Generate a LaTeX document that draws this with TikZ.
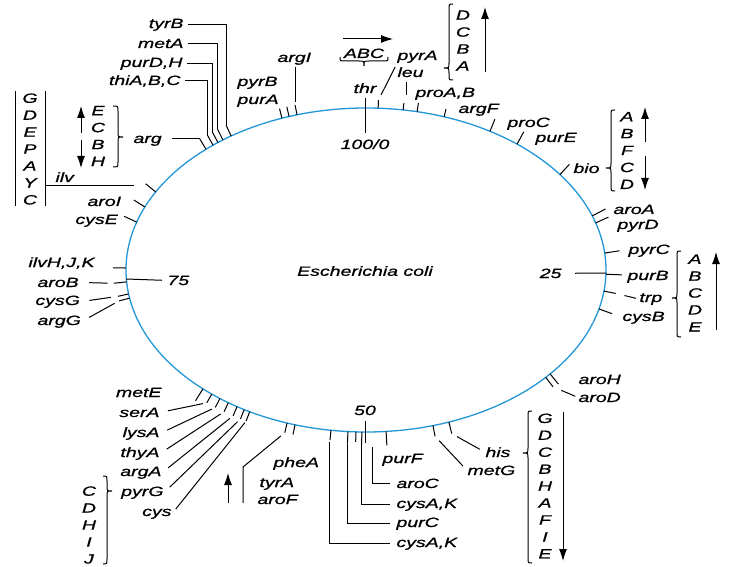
\documentclass[tikz,border=0pt]{standalone}
\usepackage{fontspec}
\setmainfont{Liberation Sans}[FakeStretch=1.45, FakeBold=0.9]
\usepackage{tikz}
\usetikzlibrary{calc, arrows.meta}
\definecolor{chromblue}{RGB}{35, 150, 215}

\begin{document}
\begin{tikzpicture}[x=1bp, y=-1bp, line width=1bp,
    gene/.style={inner sep=0pt, font=\fontsize{13.5}{17}\selectfont\itshape},
    operon/.style={gene, align=center},
    >={Latex[length=12bp, width=8bp]}]
\useasboundingbox (0,0) rectangle (732,567);

% chromosome
\draw[chromblue, line width=1.3bp] (366,270) ellipse (240 and 162);
\node[gene] (ecoli) at (365,271) {Escherichia coli};

% gene ticks (angle clockwise from the 25 min point, tick length)
\foreach \t/\g/\l in {228.2/arg/12, 230.4/thiABC/12, 231.9/purDH/12, 233.4/metA/12,
    235.8/tyrB/12, 249.5/purA/10, 251.3/pyrB/10, 253.3/argI/10, 272.9/pyrA/8,
    278.9/leu/7, 282.3/proAB/9, 289/argF/8, 301.1/proC/13, 309/purE/14,
    323.9/bio/14, 340.5/aroA/15, 343.1/pyrD/14, 354/pyrC/15, 1.5/purB/16,
    7.5/trp/12, 13.9/cysB/14, 39.9/aroH/13, 41.5/aroD/12, 69.8/his/12,
    73.8/metG/11, 85.2/purF/14, 91/cysAKa/12, 92.4/cysAKb/10, 94.3/purC/12,
    98.4/cysAKc/10, 107.2/pheA/10, 109.2/tyrA/10, 119/cys/10, 120.5/pyrG/10,
    122.5/argA/10, 125/thyA/10, 127.5/lysA/10, 130/serA/10, 132.8/metE/14,
    170/argG/11, 171.5/cysG/11, 175.8/aroB/13, 180.7/ilvHJK/13, 197.2/cysE/14,
    202.9/aroI/13, 208.8/ilv/13}{
  \pgfmathsetmacro{\tnx}{162*cos(\t)}
  \pgfmathsetmacro{\tny}{240*sin(\t)}
  \pgfmathsetmacro{\tnl}{veclen(\tnx,\tny)}
  \coordinate (\g-on) at ({366+240*cos(\t)},{270+162*sin(\t)});
  \coordinate (\g-out) at ($(\g-on)+({\l*\tnx/\tnl},{\l*\tny/\tnl})$);
  \draw (\g-on) -- (\g-out);
}

% map units
\node[gene, anchor=base] (thr) at (365,93) {thr};
\node[gene, anchor=base] (zero) at (365,149) {100/0};
\draw[shorten <=4bp, shorten >=6bp] (thr.south) -- (zero.north);
\node[gene, anchor=base east] (min25) at (562,278) {25};
\coordinate (q25) at (606,273);
\draw[shorten <=13bp] (min25.east) -- (q25);
\node[gene, anchor=base] (min50) at (365,415) {50};
\coordinate (q50) at (365,443);
\draw[shorten <=5bp] (min50.south) -- (q50);
\node[gene, anchor=base west] (min75) at (167,285) {75};
\coordinate (q75) at (126,279);
\draw[shorten <=5bp] (min75.west) -- (q75);

% top left
\node[gene, anchor=base east] (tyrB) at (184,28) {tyrB};
\node[gene, anchor=base east] (metA) at (184,48) {metA};
\node[gene, anchor=base east] (purDH) at (183,67) {purD,H};
\node[gene, anchor=base east] (thiABC) at (181,85) {thiA,B,C};
\draw (tyrB-out) |- ([xshift=4bp]tyrB.east);
\draw (metA-out) |- ([xshift=4bp]metA.east);
\draw (purDH-out) |- ([xshift=4bp]purDH.east);
\draw (thiABC-out) |- ([xshift=4bp]thiABC.east);
\node[gene, anchor=base west] (argL) at (133,143) {arg};
\draw (arg-out) -- ($(argL.east |- arg-out)+(10,0)$);
\node[operon] (argOp) at (98,136) {E\\C\\B\\H};
\draw[->] (81,133) -- (81,106);
\draw[->] (81,140) -- (81,168);
\draw (113,106) .. controls (118,106) .. (118,111) -- (118,132)
  .. controls (118,137) .. (123,137) .. controls (118,137) .. (118,142)
  -- (118,162) .. controls (118,167) .. (113,167);

\node[operon] (ilvOp) at (30,149) {G\\D\\E\\P\\A\\Y\\C};
\draw (15,91) -- (15,206);
\draw (45,91) -- (45,206);
\node[gene, anchor=base west] (ilvL) at (55,182) {ilv};
\coordinate (ilvBar) at (45,186);
\draw[shorten >=12bp] (ilvBar) -- (ilvBar -| ilv-out);

\node[gene, anchor=base west] (pyrBL) at (237,86) {pyrB};
\node[gene, anchor=base west] (purAL) at (237,104) {purA};
\node[gene, anchor=base west] (argIL) at (277,62) {argI};
\draw[shorten <=2bp, shorten >=3bp] (argI-out |- argIL.south) -- (argI-out);

% top
\node[gene, anchor=base] (abc) at (364,58) {ABC};
\draw[->] (343,39) -- (393,39);
\draw (340,57) .. controls (340,61) .. (345,61) -- (359,61)
  .. controls (364,61) .. (364,66) .. controls (364,61) .. (369,61)
  -- (383,61) .. controls (388,61) .. (388,57);
\node[gene, anchor=base west] (pyrAL) at (397,60) {pyrA};
\draw[shorten <=6bp, shorten >=4bp] (pyrA-out) -- (pyrAL.south west);
\node[gene, anchor=base west] (leuL) at (397,77) {leu};
\draw[shorten <=4bp, shorten >=8bp] ($(leuL.south west)+(9,0)$) -- ($(leuL.south west |- leu-out)+(9,0)$);
\node[operon] (leuOp) at (463,40.5) {D\\C\\B\\A};
\draw[->] (485,72) -- (485,7);
\draw (453,4) .. controls (449,4) .. (449,9) -- (449,63)
  .. controls (449,68) .. (444,68) .. controls (449,68) .. (449,73)
  -- (449,75) .. controls (449,80) .. (453,80);
\node[gene, anchor=base west] (proABL) at (415,97) {proA,B};
\node[gene, anchor=base west] (argFL) at (458,113) {argF};
\node[gene, anchor=base west] (proCL) at (507,127) {proC};
\node[gene, anchor=base west] (purEL) at (535,142) {purE};

% right
\node[gene, anchor=base west] (bioL) at (573,173) {bio};
\node[operon] (bioOp) at (627,150.5) {A\\B\\F\\C\\D};
\draw (615,110) .. controls (611,110) .. (611,115) -- (611,163)
  .. controls (611,168) .. (606,168) .. controls (611,168) .. (611,173)
  -- (611,186) .. controls (611,191) .. (615,191);
\draw[->] (645,142) -- (645,107);
\draw[->] (645,156) -- (645,190);
\node[gene, anchor=base west] (aroAL) at (613,214) {aroA};
\node[gene, anchor=base west] (pyrDL) at (617,229) {pyrD};
\node[gene, anchor=base west] (pyrCL) at (628,254) {pyrC};
\node[gene, anchor=base west] (purBL) at (627,280) {purB};
\node[gene, anchor=base west] (trpL) at (639,302) {trp};
\draw[shorten <=9bp, shorten >=3bp] (trp-out) -- (trpL.west);
\node[gene, anchor=base west] (cysBL) at (622,321) {cysB};
\node[operon] (trpOp) at (695,293) {A\\B\\C\\D\\E};
\draw (681,251) .. controls (677,251) .. (677,256) -- (677,293)
  .. controls (677,298) .. (672,298) .. controls (677,298) .. (677,303)
  -- (677,332) .. controls (677,337) .. (681,337);
\draw[->] (716,330) -- (716,252);
\node[gene, anchor=base west] (aroHL) at (578,384) {aroH};
\node[gene, anchor=base west] (aroDL) at (578,402) {aroD};
\draw[shorten <=9bp, shorten >=3bp] (aroD-out) -- (aroDL.west);

% bottom right
\node[gene, anchor=base west] (hisL) at (485,457) {his};
\draw[shorten <=6bp, shorten >=6bp] (his-out) -- (hisL.west);
\node[gene, anchor=base west] (metGL) at (467,475) {metG};
\draw[shorten <=6bp, shorten >=6bp] (metG-out) -- (metGL.west);
\node[operon] (hisOp) at (545,486) {G\\D\\C\\B\\H\\A\\F\\I\\E};
\draw (532,411) .. controls (528,411) .. (528,416) -- (528,448)
  .. controls (528,453) .. (523,453) .. controls (528,453) .. (528,458)
  -- (528,558) .. controls (528,563) .. (532,563);
\draw[->] (563,412) -- (563,561);

% bottom
\node[gene, anchor=base west] (purFL) at (382,463) {purF};
\node[gene, anchor=base west] (aroCL) at (396,488) {aroC};
\node[gene, anchor=base west] (cysAK1) at (396,508) {cysA,K};
\node[gene, anchor=base west] (purCL) at (396,527) {purC};
\node[gene, anchor=base west] (cysAK2) at (396,547) {cysA,K};
\coordinate (aroCtop) at (372,447);
\draw (aroCtop) |- ([xshift=-6bp]aroCL.west);
\draw (cysAKa-out) |- ([xshift=-6bp]cysAK1.west);
\draw (purC-out) |- ([xshift=-6bp]purCL.west);
\draw[shorten <=2bp] (cysAKc-out) |- ([xshift=-6bp]cysAK2.west);

\node[gene, anchor=base west] (pheAL) at (273,467) {pheA};
\node[gene, anchor=base west] (tyrAL) at (259,487) {tyrA};
\node[gene, anchor=base west] (aroFL) at (257,504) {aroF};
\coordinate (pheBend) at (243,467);
\coordinate (pheFoot) at (243,503);
\draw[shorten <=5bp] (tyrA-out) -- (pheBend) -- (pheFoot);
\draw[->] (228,503) -- (228,473);

% bottom left
\node[gene, anchor=base east] (metEL) at (162,397) {metE};
\node[gene, anchor=base east] (serAL) at (160,417) {serA};
\node[gene, anchor=base east] (lysAL) at (160,437) {lysA};
\node[gene, anchor=base east] (thyAL) at (160,457) {thyA};
\node[gene, anchor=base east] (argAL) at (162,476) {argA};
\node[gene, anchor=base east] (pyrGL) at (164,496) {pyrG};
\node[gene, anchor=base east] (cysL) at (172,516) {cys};
\draw[shorten <=8bp, shorten >=4bp] (serAL.east) -- (serA-out);
\draw[shorten <=8bp, shorten >=4bp] (lysAL.east) -- (lysA-out);
\draw[shorten <=8bp, shorten >=4bp] (thyAL.east) -- (thyA-out);
\draw[shorten <=8bp, shorten >=4bp] (argAL.east) -- (argA-out);
\draw[shorten <=8bp, shorten >=4bp] (pyrGL.east) -- (pyrG-out);
\draw[shorten <=6bp, shorten >=2bp] (cysL.east) -- (cys-out);
\node[operon] (cysOp) at (89,525) {C\\D\\H\\I\\J};
\draw (103,476) .. controls (107,476) .. (107,481) -- (107,486)
  .. controls (107,491) .. (112,491) .. controls (107,491) .. (107,496)
  -- (107,559) .. controls (107,564) .. (103,564);

% left
\node[gene, anchor=base west] (aroIL) at (87,206) {aroI};
\node[gene, anchor=base west] (cysEL) at (75,224) {cysE};
\node[gene, anchor=base west] (ilvHJKL) at (28,267) {ilvH,J,K};
\node[gene, anchor=base west] (aroBL) at (37,287) {aroB};
\node[gene, anchor=base west] (cysGL) at (35,305) {cysG};
\node[gene, anchor=base west] (argGL) at (37,325) {argG};
\draw[shorten <=10bp, shorten >=6bp] (aroBL.east) -- (aroB-out);
\draw[shorten <=9bp, shorten >=7bp] (cysGL.east) -- (cysG-out);
\draw[shorten <=9bp, shorten >=5bp] (argGL.east) -- (argG-out);
\end{tikzpicture}
\end{document}
